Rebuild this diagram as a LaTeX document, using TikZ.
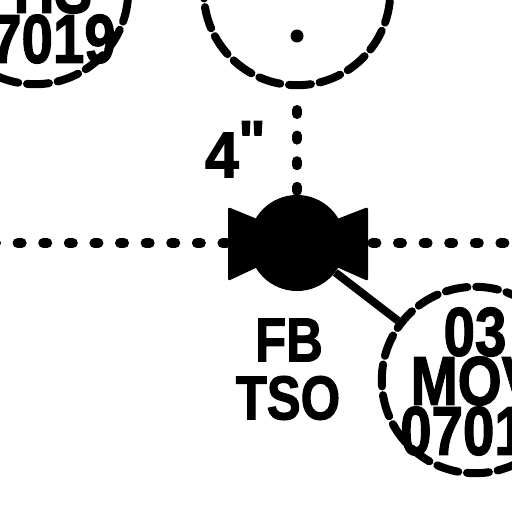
\documentclass[tikz,border=0pt]{standalone}
\usepackage{fontspec}
\setmainfont{Liberation Sans}
\newfontfamily\heavyfont[FakeBold=2]{Liberation Sans Bold}
\begin{document}
\begin{tikzpicture}[x=0.025cm, y=-0.025cm,
  instr/.style={draw=black, line width=0.2cm, fill=none, circle, minimum size=4.66cm,
                inner sep=0pt, dash pattern=on 0.55cm off 0.22cm, line cap=round},
  tag/.style={font=\fontsize{49}{49}\selectfont\heavyfont, inner sep=0pt, xscale=0.82},
  pipe/.style={draw=black, line width=0.25cm, line cap=round, dash pattern=on 0.1cm off 0.54cm},
  signal/.style={draw=black, line width=0.2cm},
]
\useasboundingbox (0,0) rectangle (512,512);
\clip (0,0) rectangle (512,512);

% Pipe ends
\coordinate (pipewest) at (-8,243);
\coordinate (pipeeast) at (530,243);

% Instrument bubbles
\node[instr] (hsleft) at (35,-9) {};
\node[instr] (hstop) at (297,-8) {};
\node[instr] (mov) at (475,380) {};
\fill[black] (297,36) circle (6.5);
\node[tag] (hsname) at (53,-11) {HS};
\node[tag] (hsnum) at (53,39) {7019};
\node[tag] (movnum) at (475,332) {03};
\node[tag] (movname) at (475,381) {MOV};
\node[tag] (movtag) at (463,431) {0701};

% Valve
\node[circle, fill=black, minimum size=2.4cm, inner sep=0pt] (tso) at (297,243) {};
\fill[black, rounded corners=1.5pt] (228,207) -- (262,221) -- (332,221) -- (368,207)
  -- (368,281) -- (332,265) -- (262,265) -- (228,281) -- cycle;

% Lines
\draw[pipe] (pipewest) -- (tso);
\draw[pipe] (pipeeast) -- (tso);
\draw[pipe] (hstop) ++(0,118) -- (tso);
\draw[signal] (tso) -- (mov);

% Labels
\node[tag, font=\fontsize{44}{44}\selectfont\heavyfont] (valvefb) at (289,340) {FB};
\node[tag, font=\fontsize{44}{44}\selectfont\heavyfont] (valvetso) at (288,398) {TSO};
\node[tag, font=\fontsize{46}{46}\selectfont\heavyfont, xscale=1.15] (size) at (222,155) {4};
\node[tag, font=\fontsize{40}{40}\selectfont\heavyfont, xscale=1.25, anchor=north] (inch) at (252,121) {\char34};
\end{tikzpicture}
\end{document}
